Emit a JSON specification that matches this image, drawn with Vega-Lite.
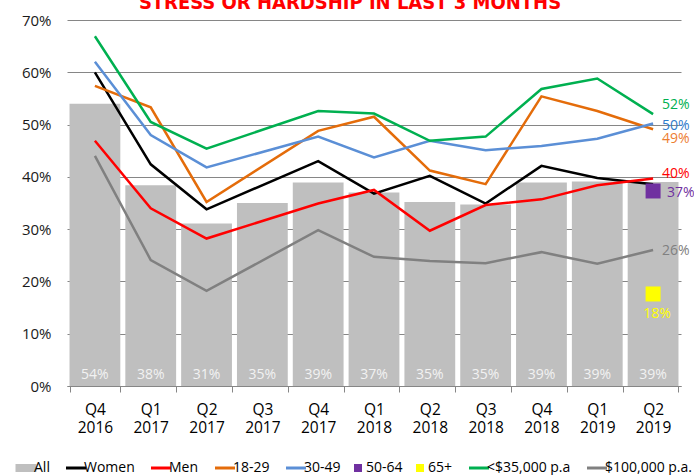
{
  "$schema": "https://vega.github.io/schema/vega-lite/v6.json",
  "width": 614,
  "height": 366,
  "autosize": {"type": "none"},
  "padding": {"left": 67, "top": 20, "right": 13, "bottom": 89},
  "background": "white",
  "title": {"text": "STRESS OR HARDSHIP IN LAST 3 MONTHS", "color": "#FF0000", "font": "DejaVu Sans Condensed, DejaVu Sans, sans-serif", "fontWeight": "bold", "fontSize": 20, "anchor": "middle", "frame": "group", "dx": -24, "baseline": "alphabetic", "offset": -16},
  "config": {"view": {"stroke": null}, "font": "Open Sans"},
  "datasets": {
    "bars": [
      {"q": "Q4 2016", "all": 0.54},
      {"q": "Q1 2017", "all": 0.384},
      {"q": "Q2 2017", "all": 0.311},
      {"q": "Q3 2017", "all": 0.35},
      {"q": "Q4 2017", "all": 0.389},
      {"q": "Q1 2018", "all": 0.37},
      {"q": "Q2 2018", "all": 0.352},
      {"q": "Q3 2018", "all": 0.347},
      {"q": "Q4 2018", "all": 0.389},
      {"q": "Q1 2019", "all": 0.391},
      {"q": "Q2 2019", "all": 0.39}
    ],
    "lines": [
      {"q": "Q4 2016", "series": "Women", "v": 0.60},
      {"q": "Q1 2017", "series": "Women", "v": 0.424},
      {"q": "Q2 2017", "series": "Women", "v": 0.338},
      {"q": "Q4 2017", "series": "Women", "v": 0.43},
      {"q": "Q1 2018", "series": "Women", "v": 0.368},
      {"q": "Q2 2018", "series": "Women", "v": 0.402},
      {"q": "Q3 2018", "series": "Women", "v": 0.349},
      {"q": "Q4 2018", "series": "Women", "v": 0.421},
      {"q": "Q1 2019", "series": "Women", "v": 0.398},
      {"q": "Q2 2019", "series": "Women", "v": 0.386},
      {"q": "Q4 2016", "series": "Men", "v": 0.469},
      {"q": "Q1 2017", "series": "Men", "v": 0.34},
      {"q": "Q2 2017", "series": "Men", "v": 0.282},
      {"q": "Q4 2017", "series": "Men", "v": 0.349},
      {"q": "Q1 2018", "series": "Men", "v": 0.375},
      {"q": "Q2 2018", "series": "Men", "v": 0.297},
      {"q": "Q3 2018", "series": "Men", "v": 0.346},
      {"q": "Q4 2018", "series": "Men", "v": 0.357},
      {"q": "Q1 2019", "series": "Men", "v": 0.384},
      {"q": "Q2 2019", "series": "Men", "v": 0.397},
      {"q": "Q4 2016", "series": "18-29", "v": 0.574},
      {"q": "Q1 2017", "series": "18-29", "v": 0.533},
      {"q": "Q2 2017", "series": "18-29", "v": 0.352},
      {"q": "Q4 2017", "series": "18-29", "v": 0.488},
      {"q": "Q1 2018", "series": "18-29", "v": 0.515},
      {"q": "Q2 2018", "series": "18-29", "v": 0.412},
      {"q": "Q3 2018", "series": "18-29", "v": 0.386},
      {"q": "Q4 2018", "series": "18-29", "v": 0.554},
      {"q": "Q1 2019", "series": "18-29", "v": 0.526},
      {"q": "Q2 2019", "series": "18-29", "v": 0.491},
      {"q": "Q4 2016", "series": "30-49", "v": 0.62},
      {"q": "Q1 2017", "series": "30-49", "v": 0.48},
      {"q": "Q2 2017", "series": "30-49", "v": 0.418},
      {"q": "Q4 2017", "series": "30-49", "v": 0.477},
      {"q": "Q1 2018", "series": "30-49", "v": 0.437},
      {"q": "Q2 2018", "series": "30-49", "v": 0.469},
      {"q": "Q3 2018", "series": "30-49", "v": 0.451},
      {"q": "Q4 2018", "series": "30-49", "v": 0.459},
      {"q": "Q1 2019", "series": "30-49", "v": 0.473},
      {"q": "Q2 2019", "series": "30-49", "v": 0.502},
      {"q": "Q4 2016", "series": "<$35,000 p.a", "v": 0.669},
      {"q": "Q1 2017", "series": "<$35,000 p.a", "v": 0.505},
      {"q": "Q2 2017", "series": "<$35,000 p.a", "v": 0.454},
      {"q": "Q4 2017", "series": "<$35,000 p.a", "v": 0.526},
      {"q": "Q1 2018", "series": "<$35,000 p.a", "v": 0.521},
      {"q": "Q2 2018", "series": "<$35,000 p.a", "v": 0.469},
      {"q": "Q3 2018", "series": "<$35,000 p.a", "v": 0.477},
      {"q": "Q4 2018", "series": "<$35,000 p.a", "v": 0.568},
      {"q": "Q1 2019", "series": "<$35,000 p.a", "v": 0.588},
      {"q": "Q2 2019", "series": "<$35,000 p.a", "v": 0.52},
      {"q": "Q4 2016", "series": "$100,000 p.a.", "v": 0.44},
      {"q": "Q1 2017", "series": "$100,000 p.a.", "v": 0.241},
      {"q": "Q2 2017", "series": "$100,000 p.a.", "v": 0.182},
      {"q": "Q4 2017", "series": "$100,000 p.a.", "v": 0.298},
      {"q": "Q1 2018", "series": "$100,000 p.a.", "v": 0.247},
      {"q": "Q2 2018", "series": "$100,000 p.a.", "v": 0.239},
      {"q": "Q3 2018", "series": "$100,000 p.a.", "v": 0.235},
      {"q": "Q4 2018", "series": "$100,000 p.a.", "v": 0.256},
      {"q": "Q1 2019", "series": "$100,000 p.a.", "v": 0.234},
      {"q": "Q2 2019", "series": "$100,000 p.a.", "v": 0.26}
    ],
    "pts": [
      {"q": "Q2 2019", "series": "50-64", "v": 0.373},
      {"q": "Q2 2019", "series": "65+", "v": 0.176}
    ]
  },
  "encoding": {
    "x": {
      "field": "q", "type": "nominal", "title": null,
      "scale": {"domain": ["Q4 2016", "Q1 2017", "Q2 2017", "Q3 2017", "Q4 2017", "Q1 2018", "Q2 2018", "Q3 2018", "Q4 2018", "Q1 2019", "Q2 2019"], "paddingInner": 0.09, "paddingOuter": 0.045},
      "axis": {"labelAngle": 0, "labelExpr": "split(datum.label, ' ')", "labelFont": "Open Sans", "labelFontSize": 15.5, "labelFontWeight": "normal", "labelColor": "#000000", "labelLineHeight": 18, "labelPadding": 10, "tickBand": "extent", "tickSize": 6, "tickColor": "#868686", "domainColor": "#868686", "grid": false}
    }
  },
  "layer": [
    {
      "data": {"name": "bars"},
      "mark": {"type": "bar", "color": "#BFBFBF"},
      "encoding": {
        "y": {"field": "all", "type": "quantitative", "title": null,
          "scale": {"domain": [0, 0.7], "nice": false},
          "axis": {"format": ".0%", "values": [0, 0.1, 0.2, 0.3, 0.4, 0.5, 0.6, 0.7], "grid": true, "gridColor": "#868686", "gridWidth": 1, "domain": false, "ticks": false, "labelFont": "Open Sans", "labelFontSize": 15, "labelColor": "#1a1a1a", "labelPadding": 16}}
      }
    },
    {
      "data": {"name": "bars"},
      "mark": {"type": "text", "color": "#F2F2F2", "fontSize": 14, "baseline": "middle", "dy": -11},
      "encoding": {
        "y": {"datum": 0, "type": "quantitative"},
        "text": {"field": "all", "type": "quantitative", "format": ".0%"}
      }
    },
    {
      "data": {"name": "lines"},
      "mark": {"type": "line", "strokeWidth": 2.5},
      "encoding": {
        "y": {"field": "v", "type": "quantitative"},
        "color": {"field": "series", "type": "nominal",
          "scale": {"domain": ["All", "Women", "Men", "18-29", "30-49", "50-64", "65+", "<$35,000 p.a", "$100,000 p.a."], "range": ["#BFBFBF", "#000000", "#FF0000", "#E46C0A", "#5B8FD6", "#7030A0", "#FFFF00", "#00B050", "#808080"]},
          "legend": {"orient": "none", "legendX": -48, "legendY": 441, "direction": "horizontal", "columns": 9, "title": null, "labelFont": "Open Sans", "labelFontSize": 14, "labelColor": "#000000", "symbolSize": 441, "symbolOffset": 0, "labelOffset": 1, "columnPadding": 10, "padding": 0,
            "encode": {"symbols": {"update": {
              "shape": {"signal": "datum.value === 'All' ? 'M-1,-0.38H1V0.38H-1Z' : (datum.value === '50-64' || datum.value === '65+') ? 'square' : 'stroke'"},
              "size": {"signal": "datum.value === 'All' ? 441 : (datum.value === '50-64' || datum.value === '65+') ? 64 : 400"},
              "fill": {"signal": "scale('color', datum.value)"},
              "stroke": {"signal": "scale('color', datum.value)"},
              "strokeWidth": {"signal": "(datum.value === 'All' || datum.value === '50-64' || datum.value === '65+') ? 0 : 3"},
              "opacity": {"value": 1},
              "fillOpacity": {"value": 1},
              "strokeOpacity": {"value": 1}
            }}}
          }
        }
      }
    },
    {
      "data": {"name": "pts"},
      "mark": {"type": "square", "size": 225, "filled": true, "opacity": 1},
      "encoding": {
        "y": {"field": "v", "type": "quantitative"},
        "color": {"field": "series", "type": "nominal"}
      }
    },
    {
      "data": {"name": "lines"},
      "transform": [{"filter": "datum.q === 'Q2 2019' && datum.series === '<$35,000 p.a'"}],
      "mark": {"type": "text", "align": "left", "baseline": "middle", "dx": 9, "dy": -9, "fontSize": 14, "color": "#00B050"},
      "encoding": {"y": {"field": "v", "type": "quantitative"}, "text": {"field": "v", "type": "quantitative", "format": ".0%"}}
    },
    {
      "data": {"name": "lines"},
      "transform": [{"filter": "datum.q === 'Q2 2019' && datum.series === '30-49'"}],
      "mark": {"type": "text", "align": "left", "baseline": "middle", "dx": 9, "dy": 2, "fontSize": 14, "color": "#2F7BCB"},
      "encoding": {"y": {"field": "v", "type": "quantitative"}, "text": {"field": "v", "type": "quantitative", "format": ".0%"}}
    },
    {
      "data": {"name": "lines"},
      "transform": [{"filter": "datum.q === 'Q2 2019' && datum.series === '18-29'"}],
      "mark": {"type": "text", "align": "left", "baseline": "middle", "dx": 9, "dy": 10, "fontSize": 14, "color": "#ED7D31"},
      "encoding": {"y": {"field": "v", "type": "quantitative"}, "text": {"field": "v", "type": "quantitative", "format": ".0%"}}
    },
    {
      "data": {"name": "lines"},
      "transform": [{"filter": "datum.q === 'Q2 2019' && datum.series === 'Men'"}],
      "mark": {"type": "text", "align": "left", "baseline": "middle", "dx": 9, "dy": -4, "fontSize": 14, "color": "#FF0000"},
      "encoding": {"y": {"field": "v", "type": "quantitative"}, "text": {"field": "v", "type": "quantitative", "format": ".0%"}}
    },
    {
      "data": {"name": "lines"},
      "transform": [{"filter": "datum.q === 'Q2 2019' && datum.series === '$100,000 p.a.'"}],
      "mark": {"type": "text", "align": "left", "baseline": "middle", "dx": 9, "dy": 1, "fontSize": 14, "color": "#808080"},
      "encoding": {"y": {"field": "v", "type": "quantitative"}, "text": {"field": "v", "type": "quantitative", "format": ".0%"}}
    },
    {
      "data": {"name": "pts"},
      "transform": [{"filter": "datum.series === '50-64'"}],
      "mark": {"type": "text", "align": "left", "baseline": "middle", "dx": 14, "dy": 2, "fontSize": 14, "color": "#7030A0"},
      "encoding": {"y": {"field": "v", "type": "quantitative"}, "text": {"field": "v", "type": "quantitative", "format": ".0%"}}
    },
    {
      "data": {"name": "pts"},
      "transform": [{"filter": "datum.series === '65+'"}],
      "mark": {"type": "text", "align": "center", "baseline": "middle", "dx": 4, "dy": 20, "fontSize": 14, "color": "#FFFF00"},
      "encoding": {"y": {"field": "v", "type": "quantitative"}, "text": {"field": "v", "type": "quantitative", "format": ".0%"}}
    }
  ]
}
